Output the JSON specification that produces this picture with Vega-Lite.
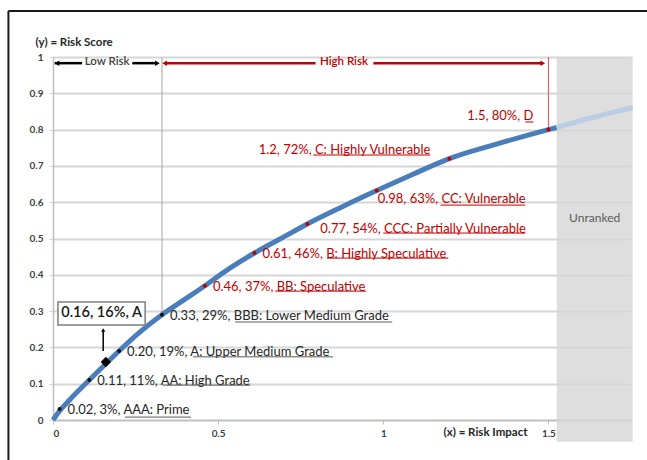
{
  "$schema": "https://vega.github.io/schema/vega-lite/v6.json",
  "width": 578,
  "height": 363,
  "autosize": "none",
  "padding": {"left": 53, "top": 57, "right": 16, "bottom": 40},
  "background": "white",
  "config": {"view": {"stroke": null}, "font": "Lato"},
  "datasets": {
    "curve": [
      {"x": 0, "y": 0}, {"x": 0.02, "y": 0.025}, {"x": 0.05, "y": 0.055}, {"x": 0.11, "y": 0.11},
      {"x": 0.16, "y": 0.155}, {"x": 0.2, "y": 0.19}, {"x": 0.26, "y": 0.24}, {"x": 0.33, "y": 0.29},
      {"x": 0.4, "y": 0.333}, {"x": 0.46, "y": 0.37}, {"x": 0.53, "y": 0.415}, {"x": 0.61, "y": 0.46},
      {"x": 0.69, "y": 0.5}, {"x": 0.77, "y": 0.54}, {"x": 0.87, "y": 0.585}, {"x": 0.98, "y": 0.632},
      {"x": 1.09, "y": 0.677}, {"x": 1.2, "y": 0.72}, {"x": 1.35, "y": 0.762}, {"x": 1.5, "y": 0.8},
      {"x": 1.525, "y": 0.806}
    ],
    "ext": [
      {"x": 1.525, "y": 0.806}, {"x": 1.6, "y": 0.825}, {"x": 1.68, "y": 0.844}, {"x": 1.755, "y": 0.861}
    ],
    "pts": [
      {"x": 0.02, "y": 0.03, "label": "0.02, 3%, AAA: Prime", "risk": "low", "grp": "a"},
      {"x": 0.11, "y": 0.11, "label": "0.11, 11%, AA: High Grade", "risk": "low", "grp": "a"},
      {"x": 0.2, "y": 0.19, "label": "0.20, 19%, A: Upper Medium Grade", "risk": "low", "grp": "a"},
      {"x": 0.33, "y": 0.29, "label": "0.33, 29%, BBB: Lower Medium Grade", "risk": "low", "grp": "a"},
      {"x": 0.46, "y": 0.37, "label": "0.46, 37%, BB: Speculative", "risk": "high", "grp": "a"},
      {"x": 0.61, "y": 0.46, "label": "0.61, 46%, B: Highly Speculative", "risk": "high", "grp": "a"},
      {"x": 0.77, "y": 0.54, "label": "0.77, 54%, CCC: Partially Vulnerable", "risk": "high", "grp": "b"},
      {"x": 0.98, "y": 0.632, "label": "0.98, 63%, CC: Vulnerable", "risk": "high", "grp": "c"},
      {"x": 1.2, "y": 0.72, "label": "1.2, 72%, C: Highly Vulnerable", "risk": "high", "grp": "d"},
      {"x": 1.5, "y": 0.8, "label": "1.5, 80%, D", "risk": "high", "grp": "e"}
    ],
    "under": [
      {"x": 0.218, "x2": 0.418, "y": 0.008, "risk": "low"},
      {"x": 0.333, "x2": 0.597, "y": 0.096, "risk": "low"},
      {"x": 0.424, "x2": 0.848, "y": 0.174, "risk": "low"},
      {"x": 0.552, "x2": 1.027, "y": 0.27, "risk": "low"},
      {"x": 0.673, "x2": 0.948, "y": 0.355, "risk": "high"},
      {"x": 0.83, "x2": 1.197, "y": 0.446, "risk": "high"},
      {"x": 1.0, "x2": 1.43, "y": 0.515, "risk": "high"},
      {"x": 1.173, "x2": 1.43, "y": 0.592, "risk": "high"},
      {"x": 0.788, "x2": 1.142, "y": 0.73, "risk": "high"},
      {"x": 1.43, "x2": 1.455, "y": 0.821, "risk": "high"}
    ]
  },
  "encoding": {
    "x": {"field": "x", "type": "quantitative", "scale": {"domain": [0, 1.75], "nice": false, "zero": false},
      "axis": {"values": [0, 0.5, 1, 1.5], "format": "~g", "grid": false, "domainColor": "#bfbfbf", "domainWidth": 1.5,
        "tickColor": "#bfbfbf", "tickSize": 4, "labelFontSize": 10, "labelFontWeight": "bold", "labelColor": "#404040",
        "labelPadding": 4, "title": "(x) = Risk Impact", "titleFontSize": 11.5, "titleFontWeight": "bold", "titleColor": "#262626",
        "titleX": 432, "titleY": 12, "titleBaseline": "middle", "titleAlign": "center"}},
    "y": {"field": "y", "type": "quantitative", "scale": {"domain": [0, 1], "nice": false, "zero": false},
      "axis": {"values": [0, 0.1, 0.2, 0.3, 0.4, 0.5, 0.6, 0.7, 0.8, 0.9, 1], "format": "~g", "grid": true,
        "gridColor": "#d6d6d6", "gridWidth": 2, "domainColor": "#bfbfbf", "domainWidth": 1.5, "tickColor": "#d6d6d6",
        "tickSize": 4, "labelFontSize": 10, "labelFontWeight": "bold", "labelColor": "#404040", "labelPadding": 6,
        "title": "(y) = Risk Score", "titleAngle": 0, "titleX": -18, "titleY": -15, "titleAlign": "left",
        "titleBaseline": "middle", "titleFontSize": 11.5, "titleFontWeight": "bold", "titleColor": "#262626"}}
  },
  "layer": [
    {
      "data": {"values": [{"x": 1.525, "x2": 1.755, "y": -0.06, "y2": 1}]},
      "mark": {"type": "rect", "color": "#d6d6d6", "opacity": 0.8},
      "encoding": {"x2": {"field": "x2"}, "y2": {"field": "y2"}}
    },
    {
      "data": {"values": [{"x": -0.135, "x2": -0.135, "y": -0.3, "y2": 1.127}, {"x": -0.135, "x2": 2.0, "y": 1.127, "y2": 1.127}]},
      "mark": {"type": "rule", "color": "#1a1a1a", "strokeWidth": 2},
      "encoding": {"x2": {"field": "x2"}, "y2": {"field": "y2"}}
    },
    {
      "data": {"values": [{"x": 0.33, "y": 0.29, "y2": 1}]},
      "mark": {"type": "rule", "color": "#a6a6a6", "strokeWidth": 1},
      "encoding": {"y2": {"field": "y2"}}
    },
    {
      "data": {"values": [{"x": 1.5, "y": 0.8, "y2": 1}]},
      "mark": {"type": "rule", "color": "#e05050", "strokeWidth": 1},
      "encoding": {"y2": {"field": "y2"}}
    },
    {
      "data": {"name": "curve"},
      "mark": {"type": "line", "color": "#4a7ebb", "strokeWidth": 5, "interpolate": "monotone"},
      "encoding": {}
    },
    {
      "data": {"name": "ext"},
      "mark": {"type": "line", "color": "#b9cde5", "strokeWidth": 5, "interpolate": "monotone"},
      "encoding": {}
    },
    {
      "data": {"name": "pts"},
      "transform": [{"filter": "datum.risk == 'low'"}],
      "mark": {"type": "point", "filled": true, "color": "#111111", "size": 16, "opacity": 1}
    },
    {
      "data": {"name": "pts"},
      "transform": [{"filter": "datum.risk == 'high'"}],
      "mark": {"type": "point", "filled": true, "color": "#c00000", "size": 16, "opacity": 1}
    },
    {
      "data": {"values": [{"x": 0.16, "y": 0.16}]},
      "mark": {"type": "point", "filled": true, "color": "#000000", "shape": "diamond", "size": 110, "opacity": 1}
    },
    {
      "data": {"name": "pts"},
      "transform": [{"filter": "datum.risk == 'low'"}],
      "mark": {"type": "text", "align": "left", "baseline": "middle", "dx": 8, "dy": 1, "fontSize": 13, "color": "#262626"},
      "encoding": {"text": {"field": "label"}}
    },
    {
      "data": {"name": "pts"},
      "transform": [{"filter": "datum.risk == 'high' && datum.grp == 'a'"}],
      "mark": {"type": "text", "align": "left", "baseline": "middle", "dx": 8, "dy": 1, "fontSize": 13, "color": "#c00000"},
      "encoding": {"text": {"field": "label"}}
    },
    {
      "data": {"name": "pts"},
      "transform": [{"filter": "datum.grp == 'b'"}],
      "mark": {"type": "text", "align": "left", "baseline": "middle", "dx": 13, "dy": 5, "fontSize": 13, "color": "#c00000"},
      "encoding": {"text": {"field": "label"}}
    },
    {
      "data": {"name": "pts"},
      "transform": [{"filter": "datum.grp == 'c'"}],
      "mark": {"type": "text", "align": "left", "baseline": "middle", "dx": 1, "dy": 8, "fontSize": 13, "color": "#c00000"},
      "encoding": {"text": {"field": "label"}}
    },
    {
      "data": {"name": "pts"},
      "transform": [{"filter": "datum.grp == 'd'"}],
      "mark": {"type": "text", "align": "right", "baseline": "middle", "dx": -19, "dy": -9, "fontSize": 13, "color": "#c00000"},
      "encoding": {"text": {"field": "label"}}
    },
    {
      "data": {"name": "pts"},
      "transform": [{"filter": "datum.grp == 'e'"}],
      "mark": {"type": "text", "align": "right", "baseline": "middle", "dx": -15, "dy": -14, "fontSize": 13, "color": "#c00000"},
      "encoding": {"text": {"field": "label"}}
    },
    {
      "data": {"name": "under"},
      "transform": [{"filter": "datum.risk == 'low'"}],
      "mark": {"type": "rule", "color": "#595959", "strokeWidth": 1},
      "encoding": {"x2": {"field": "x2"}}
    },
    {
      "data": {"name": "under"},
      "transform": [{"filter": "datum.risk == 'high'"}],
      "mark": {"type": "rule", "color": "#c00000", "strokeWidth": 1},
      "encoding": {"x2": {"field": "x2"}}
    },
    {
      "data": {"values": [{"x": 0.005, "x2": 0.088, "y": 0.983}, {"x": 0.24, "x2": 0.31, "y": 0.983}]},
      "mark": {"type": "rule", "color": "#000000", "strokeWidth": 2.5},
      "encoding": {"x2": {"field": "x2"}}
    },
    {
      "data": {"values": [{"x": 0.34, "x2": 0.795, "y": 0.983}, {"x": 0.97, "x2": 1.48, "y": 0.983}]},
      "mark": {"type": "rule", "color": "#c00000", "strokeWidth": 2.5},
      "encoding": {"x2": {"field": "x2"}}
    },
    {
      "data": {"values": [{"x": 0.012, "y": 0.983}]},
      "mark": {"type": "point", "shape": "triangle-left", "filled": true, "color": "#000000", "size": 30, "opacity": 1}
    },
    {
      "data": {"values": [{"x": 0.316, "y": 0.983}]},
      "mark": {"type": "point", "shape": "triangle-right", "filled": true, "color": "#000000", "size": 30, "opacity": 1}
    },
    {
      "data": {"values": [{"x": 0.338, "y": 0.983}]},
      "mark": {"type": "point", "shape": "triangle-left", "filled": true, "color": "#c00000", "size": 30, "opacity": 1}
    },
    {
      "data": {"values": [{"x": 1.483, "y": 0.983}]},
      "mark": {"type": "point", "shape": "triangle-right", "filled": true, "color": "#c00000", "size": 30, "opacity": 1}
    },
    {
      "data": {"values": [{"x": 0.164, "y": 0.985, "t": "Low Risk"}]},
      "mark": {"type": "text", "align": "center", "baseline": "middle", "fontSize": 11.5, "fontWeight": 600, "color": "#404040"},
      "encoding": {"text": {"field": "t"}}
    },
    {
      "data": {"values": [{"x": 0.881, "y": 0.985, "t": "High Risk"}]},
      "mark": {"type": "text", "align": "center", "baseline": "middle", "fontSize": 11.5, "fontWeight": 600, "color": "#c00000"},
      "encoding": {"text": {"field": "t"}}
    },
    {
      "data": {"values": [{"x": 0.015, "x2": 0.279, "y": 0.262, "y2": 0.325}]},
      "mark": {"type": "rect", "fill": "#ffffff", "stroke": "#7f7f7f", "strokeWidth": 1.5},
      "encoding": {"x2": {"field": "x2"}, "y2": {"field": "y2"}}
    },
    {
      "data": {"values": [{"x": 0.147, "y": 0.294, "t": "0.16, 16%, A"}]},
      "mark": {"type": "text", "align": "center", "baseline": "middle", "fontSize": 14.5, "fontWeight": 600, "color": "#1a1a1a"},
      "encoding": {"text": {"field": "t"}}
    },
    {
      "data": {"values": [{"x": 0.152, "y": 0.19, "y2": 0.245}]},
      "mark": {"type": "rule", "color": "#000000", "strokeWidth": 1.5},
      "encoding": {"y2": {"field": "y2"}}
    },
    {
      "data": {"values": [{"x": 0.152, "y": 0.248}]},
      "mark": {"type": "point", "shape": "triangle-up", "filled": true, "color": "#000000", "size": 18, "opacity": 1}
    },
    {
      "data": {"values": [{"x": 1.64, "y": 0.556, "t": "Unranked"}]},
      "mark": {"type": "text", "align": "center", "baseline": "middle", "fontSize": 12, "color": "#595959"},
      "encoding": {"text": {"field": "t"}}
    }
  ]
}
